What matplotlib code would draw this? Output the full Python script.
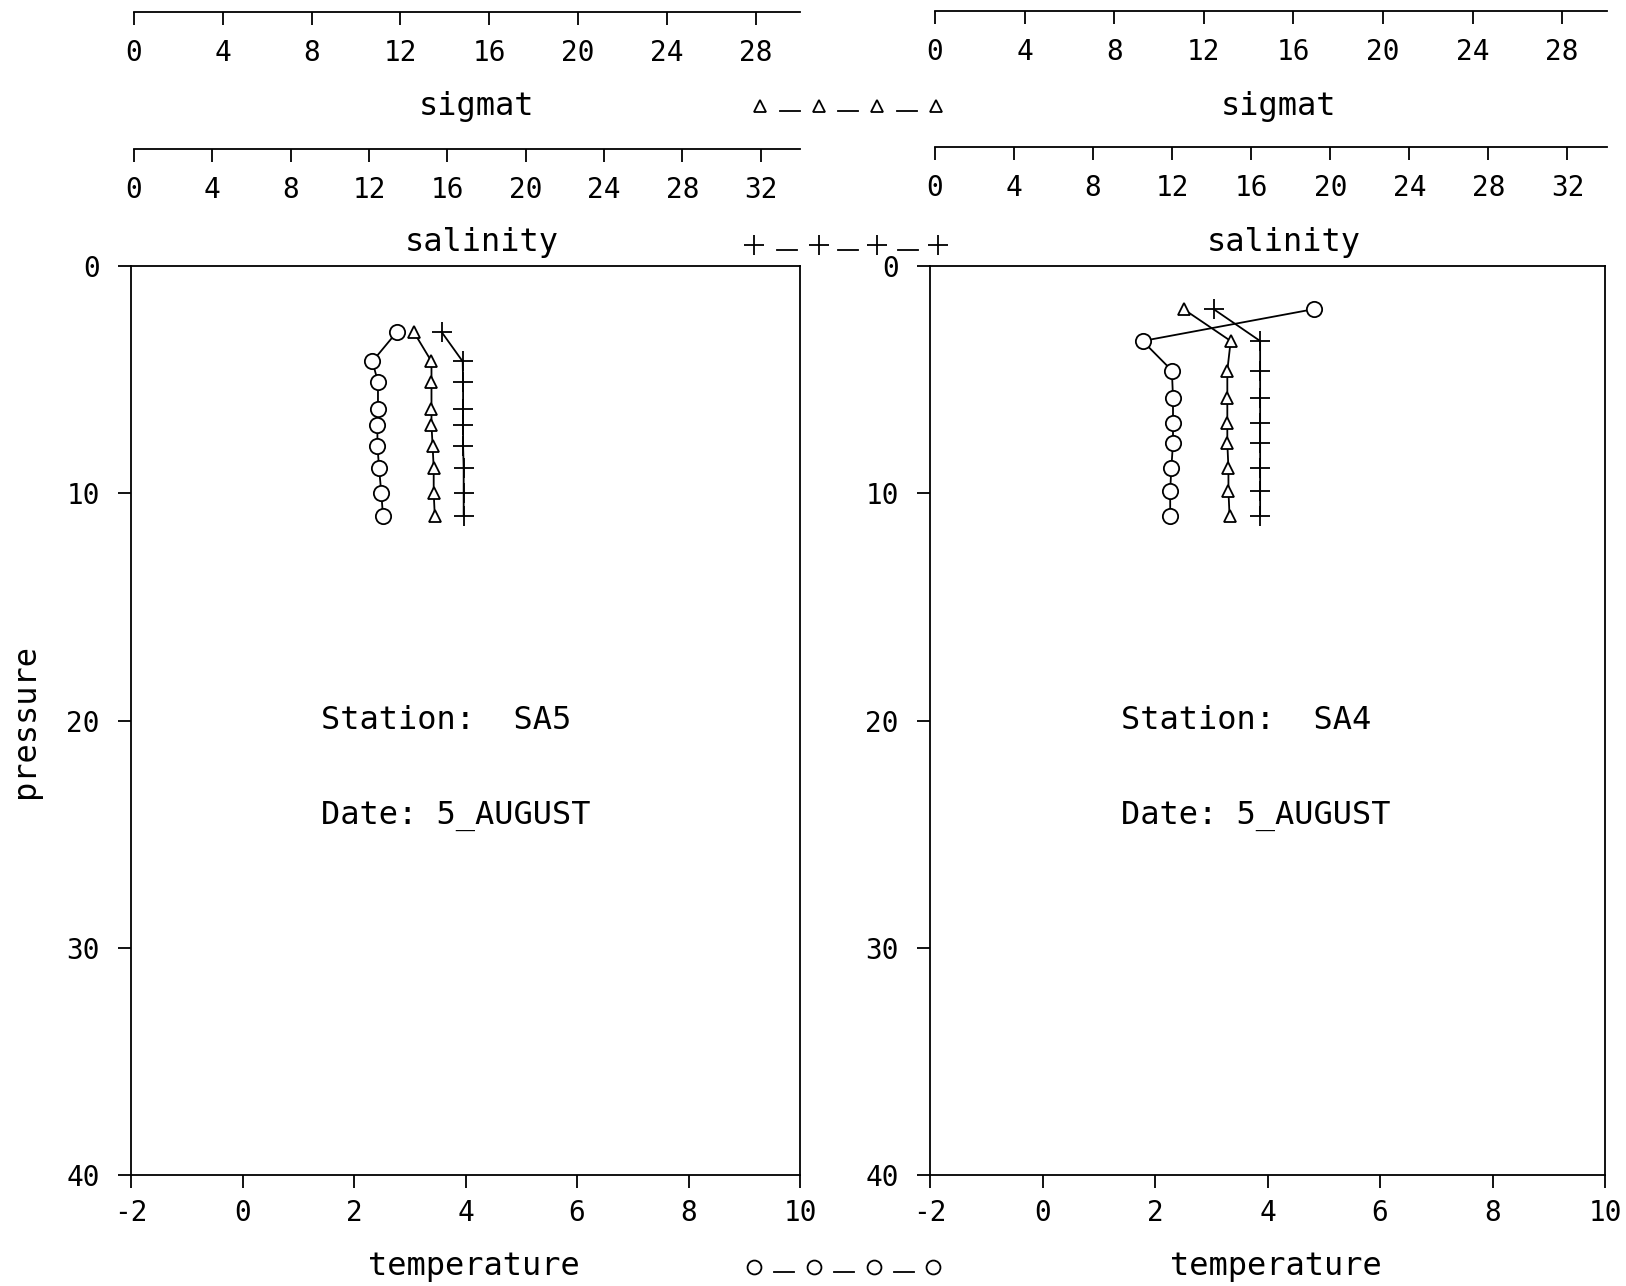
import matplotlib
matplotlib.use("Agg")
import matplotlib.pyplot as plt
from matplotlib.lines import Line2D

W, H = 1626, 1286
plt.rcParams['font.family'] = ['DejaVu Sans Mono', 'DejaVu Sans']

# ---------------- data ----------------
stations = ["SA5", "SA4"]
dates = ["5_AUGUST", "5_AUGUST"]

sa5_pressure = [2.9, 4.2, 5.1, 6.3, 7.0, 7.9, 8.9, 10.0, 11.0]
sa5_temperature = [2.77, 2.33, 2.43, 2.43, 2.42, 2.42, 2.45, 2.49, 2.52]
sa5_sigmat = [12.6, 13.4, 13.4, 13.4, 13.4, 13.45, 13.5, 13.5, 13.55]
sa5_salinity = [15.7, 16.78, 16.8, 16.8, 16.8, 16.8, 16.83, 16.83, 16.83]

sa4_pressure = [1.9, 3.3, 4.6, 5.8, 6.9, 7.8, 8.9, 9.9, 11.0]
sa4_temperature = [4.82, 1.78, 2.30, 2.32, 2.32, 2.32, 2.29, 2.27, 2.27]
sa4_sigmat = [11.1, 13.2, 13.05, 13.05, 13.05, 13.05, 13.1, 13.1, 13.15]
sa4_salinity = [14.1, 16.45, 16.45, 16.45, 16.45, 16.45, 16.45, 16.45, 16.45]

temp_ticks = [-2, 0, 2, 4, 6, 8, 10]
pressure_ticks = [0, 10, 20, 30, 40]
sigmat_ticks = [0, 4, 8, 12, 16, 20, 24, 28]
salinity_ticks = [0, 4, 8, 12, 16, 20, 24, 28, 32]

# ---------------- layout (pixels) ----------------
fig = plt.figure(figsize=(W / 100, H / 100), dpi=100)
fig.patch.set_facecolor('white')

def rect(x0, y0, x1, y1):
    return [x0 / W, 1 - y1 / H, (x1 - x0) / W, (y1 - y0) / H]

LW = 1.3
TICKLEN = 9.5
TICKFS = 20
LABELFS = 23
TEXTFS = 23

panels = [
    dict(x0=131, x1=800, tx0=134, tx1=800, sig_y=12, sal_y=149,
         lab_x=474, data=(sa5_pressure, sa5_temperature, sa5_sigmat, sa5_salinity)),
    dict(x0=930, x1=1605, tx0=935, tx1=1607, sig_y=11, sal_y=147,
         lab_x=1276, data=(sa4_pressure, sa4_temperature, sa4_sigmat, sa4_salinity)),
]

def top_axis(x0, x1, yline, lim, ticks, label, lab_x, lab_y):
    ax = fig.add_axes([x0 / W, 1 - yline / H, (x1 - x0) / W, 1e-5])
    ax.set_xlim(*lim)
    ax.set_yticks([])
    for s in ['top', 'left', 'right']:
        ax.spines[s].set_visible(False)
    ax.spines['bottom'].set_linewidth(LW)
    ax.patch.set_visible(False)
    ax.set_xticks(ticks)
    ax.set_xticklabels([str(t) for t in ticks])
    ax.tick_params(axis='x', direction='out', length=TICKLEN, width=LW,
                   labelsize=TICKFS, pad=10)
    ax.set_xlabel(label, fontsize=LABELFS)
    ax.xaxis.set_label_coords(lab_x / W, 1 - lab_y / H, transform=fig.transFigure)
    ax.xaxis.label.set_va('center')
    return ax

def overlay(x0, x1, lim):
    a = fig.add_axes(rect(x0, 266, x1, 1175))
    a.set_xlim(*lim)
    a.set_ylim(40, 0)
    a.axis('off')
    a.patch.set_visible(False)
    return a

for i, pn in enumerate(panels):
    p, t, sg, sl = pn['data']
    ax = fig.add_axes(rect(pn['x0'], 266, pn['x1'], 1175))
    ax.set_xlim(-2, 10)
    ax.set_ylim(40, 0)
    for s in ax.spines.values():
        s.set_linewidth(LW)
    ax.set_xticks(temp_ticks)
    ax.set_xticklabels([str(v) for v in temp_ticks])
    ax.set_yticks(pressure_ticks)
    ax.set_yticklabels([str(v) for v in pressure_ticks])
    ax.tick_params(direction='out', length=TICKLEN, width=LW, labelsize=TICKFS)
    ax.tick_params(axis='x', pad=8)
    ax.tick_params(axis='y', pad=13)
    ax.set_xlabel('temperature', fontsize=LABELFS)
    ax.xaxis.set_label_coords(pn['lab_x'] / W, 1 - 1267 / H, transform=fig.transFigure)
    ax.xaxis.label.set_va('center')
    if i == 0:
        ax.set_ylabel('pressure', fontsize=LABELFS)
        ax.yaxis.set_label_coords(26 / W, 1 - 721 / H, transform=fig.transFigure)
        ax.yaxis.label.set_va('center')

    # temperature on the panel's own axes
    ax.plot(t, p, color='black', lw=LW, marker='o', ms=11, mfc='white',
            mec='black', mew=LW, zorder=3)
    # sigmat on the sigmat scale (0-30) of the top axis
    axs = overlay(pn['tx0'], pn['tx1'], (0, 30))
    axs.plot(sg, p, color='black', lw=LW, marker='^', ms=9, mfc='white',
             mec='black', mew=LW, zorder=3)
    # salinity on the salinity scale (0-34) of the top axis
    axl = overlay(pn['tx0'], pn['tx1'], (0, 34))
    axl.plot(sl, p, color='black', lw=LW, marker='+', ms=15,
             mec='black', mew=LW, zorder=3)

    ax.text(1.4, 20.0, f'Station:  {stations[i]}', fontsize=TEXTFS,
            ha='left', va='center')
    ax.text(1.4, 24.2, f'Date: {dates[i]}', fontsize=TEXTFS,
            ha='left', va='center')

    top_axis(pn['tx0'], pn['tx1'], pn['sig_y'], (0, 30), sigmat_ticks,
             'sigmat', pn['lab_x'] + 2, 106)
    top_axis(pn['tx0'], pn['tx1'], pn['sal_y'], (0, 34), salinity_ticks,
             'salinity', pn['lab_x'] + 8, 242)

# ---------------- legend keys between panels ----------------
def key(xs, y, marker, ms):
    fx = [x / W for x in xs]
    fy = 1 - y / H
    fig.add_artist(Line2D(fx, [fy] * len(fx), transform=fig.transFigure,
                          linestyle='none', marker=marker, ms=ms, mfc='white',
                          mec='black', mew=LW))
    for a, b in zip(xs[:-1], xs[1:]):
        m = (a + b) / 2
        fig.add_artist(Line2D([(m - 10) / W, (m + 10) / W],
                              [1 - (y + 5) / H] * 2, transform=fig.transFigure,
                              color='black', lw=LW))

key([760, 819, 877, 936], 106, '^', 8)
key([754, 819, 877, 938], 245, '+', 14)
key([754, 814, 874, 933], 1267, 'o', 10)

fig.savefig('out.png', dpi=100, facecolor='white')
